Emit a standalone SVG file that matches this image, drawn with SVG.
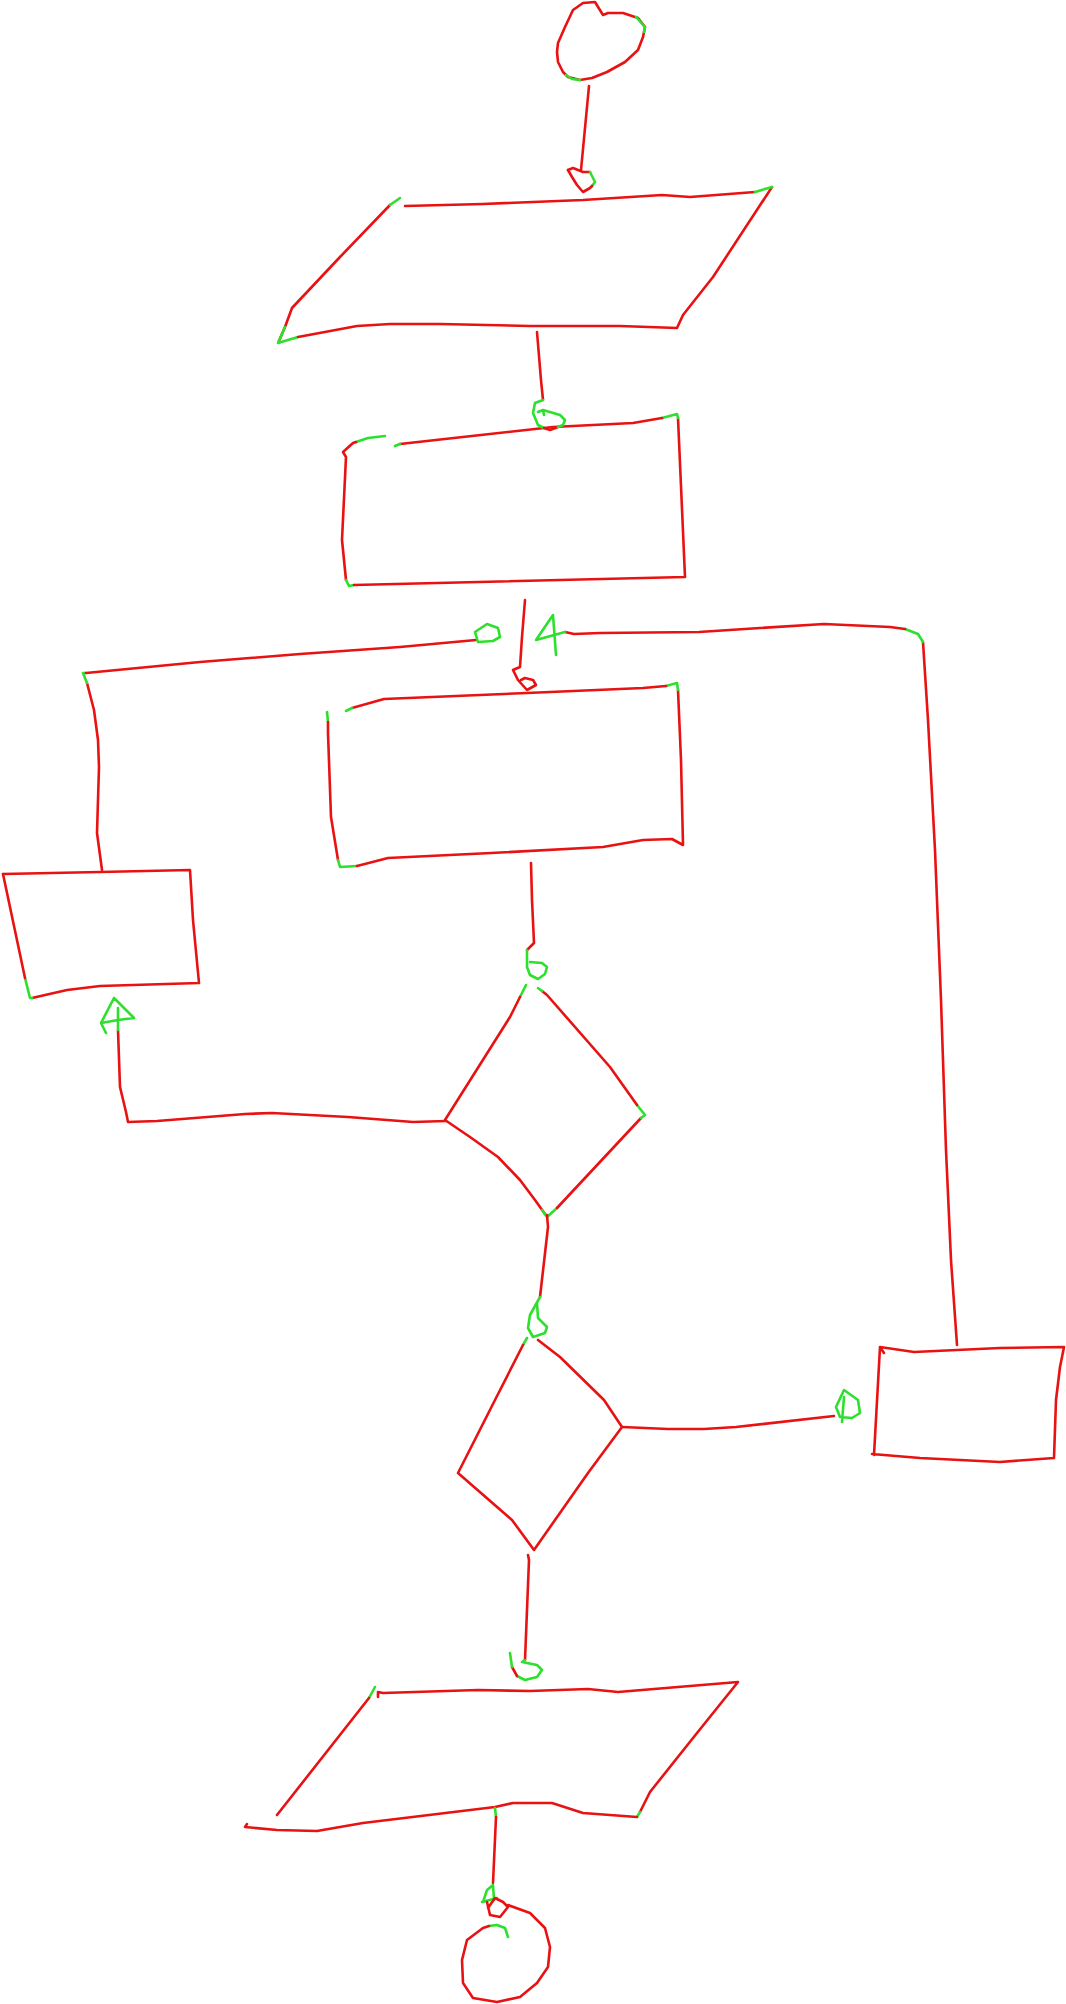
<svg xmlns="http://www.w3.org/2000/svg" width="1066" height="2004" viewBox="0 0 1066 2004">
<style>
.r{fill:none;stroke:#e81212;stroke-width:2.6;stroke-linecap:round;stroke-linejoin:round}
.g{fill:none;stroke:#2ee02e;stroke-width:2.6;stroke-linecap:round;stroke-linejoin:round}
</style>
<rect width="1066" height="2004" fill="#ffffff"/>
<g id="start">
<path class="r" d="M583,3 L595,2 L603,15 L608,13 L623,13 L638,18 L645,27 L643,37 L638,50 L625,62 L607,72 L592,78 L580,80 L568,77 L563,72 L558,62 L557,52 L558,43 L565,27 L573,10 Z"/>
<path class="g" d="M636,17 L645,27 L644,32"/>
<path class="g" d="M566,75 L572,79 L580,80"/>
</g>
<g id="input1">
<path class="r" d="M390,205 L340,257 L292,308 L285,327 L279,341"/>
<path class="g" d="M390,205 L400,198"/>
<path class="g" d="M285,327 L278,343 L298,337"/>
<path class="r" d="M298,337 L357,326 L390,324 L440,324 L530,326 L620,326 L677,328 L683,315 L713,277 L772,187"/>
<path class="r" d="M405,206 L483,204 L583,200 L662,195 L690,197 L755,192"/>
<path class="g" d="M755,192 L772,187"/>
</g>
<g id="process1">
<path class="g" d="M385,436 L368,438 L356,442"/>
<path class="r" d="M356,442 L353,443 L343,452 L346,457 L342,540 L346,580"/>
<path class="g" d="M346,580 L349,586 L354,585"/>
<path class="r" d="M354,585 L685,577 L678,418"/>
<path class="g" d="M678,418 L677,414 L662,418"/>
<path class="r" d="M662,418 L633,423 L553,427 L400,444"/>
<path class="g" d="M400,444 L395,446"/>
</g>
<g id="process2">
<path class="g" d="M327,712 L328,722"/>
<path class="r" d="M328,722 L328,733 L331,817 L338,860"/>
<path class="g" d="M338,860 L340,867 L357,866"/>
<path class="r" d="M357,866 L388,858 L491,853 L603,847 L643,840 L672,839 L683,845 L681,760 L678,690"/>
<path class="g" d="M678,690 L677,683 L666,686"/>
<path class="r" d="M666,686 L643,688 L527,693 L384,699 L352,708"/>
<path class="g" d="M352,708 L346,711"/>
</g>
<g id="process3">
<path class="r" d="M3,874 L100,872 L190,870 L193,920 L199,983 L100,986 L67,990 L32,998"/>
<path class="g" d="M32,998 L30,998 L25,978"/>
<path class="r" d="M25,978 L3,874"/>
</g>
<g id="decision1">
<path class="g" d="M526,985 L520,997"/>
<path class="r" d="M520,997 L510,1017 L445,1120 L470,1137 L498,1157 L520,1180 L535,1200 L545,1214"/>
<path class="g" d="M542,1210 L547,1217 L557,1208"/>
<path class="r" d="M557,1208 L641,1118"/>
<path class="g" d="M641,1118 L645,1115 L637,1105"/>
<path class="r" d="M637,1105 L610,1067 L547,995 L542,991"/>
<path class="g" d="M542,991 L538,988"/>
</g>
<g id="decision2">
<path class="g" d="M527,1338 L523,1345"/>
<path class="r" d="M523,1345 L495,1400 L458,1473 L512,1520 L534,1550 L548,1530 L588,1473 L622,1427 L604,1400 L560,1357 L538,1340"/>
</g>
<g id="process4">
<path class="r" d="M880,1347 L914,1352 L1000,1348 L1064,1347 L1060,1367 L1056,1400 L1054,1458 L1000,1462 L920,1458 L872,1454 M874,1455 L880,1347 L884,1353"/>
</g>
<g id="input2">
<path class="g" d="M375,1687 L369,1698"/>
<path class="r" d="M369,1698 L277,1815"/>
<path class="r" d="M378,1697 L378,1692 L383,1693 L478,1690 L530,1691 L588,1689 L618,1692 L738,1682 L697,1733 L650,1792 L640,1812"/>
<path class="g" d="M640,1812 L637,1817"/>
<path class="r" d="M637,1817 L583,1813 L552,1803 L513,1803 L495,1807 L363,1823 L317,1831 L277,1830 L245,1827 L247,1824"/>
</g>
<g id="end">
<path class="g" d="M508,1937 L505,1928 L497,1925 L489,1926"/>
<path class="r" d="M489,1926 L483,1928 L467,1940 L462,1960 L463,1983 L473,1998 L497,2002 L520,1997 L537,1983 L548,1967 L550,1947 L545,1928 L530,1913 L508,1905"/>
</g>
<g id="connectors">
<path class="r" d="M589,86 L581,170"/>
<path class="r" d="M568,170 L573,168 L583,172 L590,172"/>
<path class="g" d="M590,172 L595,182 L592,186"/>
<path class="r" d="M592,186 L590,188 L583,192 L577,185 L572,177 L568,170"/>

<path class="r" d="M537,332 L541,380 L543,400"/>
<path class="g" d="M543,400 L535,403 L533,413 L538,425 L544,428"/>
<path class="r" d="M544,428 L550,430 L558,427"/>
<path class="g" d="M558,427 L563,425 L565,420 L560,415 L543,410 L538,412 M543,410 L544,415"/>

<path class="r" d="M525,600 L522,637 L520,667 L513,670 L518,680 L527,690 L536,685 L533,680 L525,678 L521,680"/>

<path class="r" d="M102,870 L97,833 L99,767 L98,740 L94,710 L87,683"/>
<path class="g" d="M87,683 L83,673 L86,673"/>
<path class="r" d="M86,673 L200,662 L300,654 L400,647 L476,640"/>
<path class="g" d="M478,642 L475,632 L487,624 L498,628 L500,637 L493,641 L478,642"/>

<path class="r" d="M957,1345 L951,1260 L946,1150 L941,1000 L935,850 L928,720 L923,642"/>
<path class="g" d="M923,642 L918,634 L905,629"/>
<path class="r" d="M905,629 L890,627 L824,624 L760,628 L699,632 L600,633 L574,634 L565,632"/>
<path class="g" d="M556,655 L553,615 L536,640 L565,632"/>

<path class="r" d="M531,863 L532,900 L534,943 L527,950"/>
<path class="g" d="M527,950 L527,967 L530,975 L538,979 L545,974 L547,967 L542,963 L530,962"/>

<path class="r" d="M446,1121 L413,1122 L348,1117 L272,1113 L245,1114 L157,1121 L128,1122 L126,1112 L120,1087 L118,1030"/>
<path class="g" d="M118,1030 L118,1008 M114,998 L134,1018 L118,1020 L101,1023 L114,998 M101,1023 L106,1033"/>

<path class="r" d="M547,1215 L548,1227 L540,1297"/>
<path class="g" d="M540,1297 L530,1315 L528,1328 L533,1337 L545,1333 L547,1327 L538,1318 L537,1303"/>

<path class="r" d="M622,1427 L668,1429 L704,1429 L736,1427 L834,1416"/>
<path class="g" d="M844,1390 L858,1400 L860,1413 L852,1418 L840,1417 L836,1407 L844,1390 M844,1397 L842,1422"/>

<path class="r" d="M528,1555 L529,1560 L525,1660"/>
<path class="g" d="M525,1660 L522,1662 L537,1665 L542,1670 L537,1677 L525,1680 L517,1676"/>
<path class="r" d="M517,1676 L512,1667"/>
<path class="g" d="M512,1667 L510,1653"/>

<path class="g" d="M495,1808 L496,1817"/>
<path class="r" d="M496,1817 L493,1883"/>
<path class="g" d="M493,1885 L487,1890 L483,1902 M482,1902 L497,1898 M493,1885 L494,1900"/>
<path class="r" d="M487,1902 L490,1915 L500,1917 L508,1907 L503,1902 L495,1898 L488,1908"/>
</g>
</svg>
